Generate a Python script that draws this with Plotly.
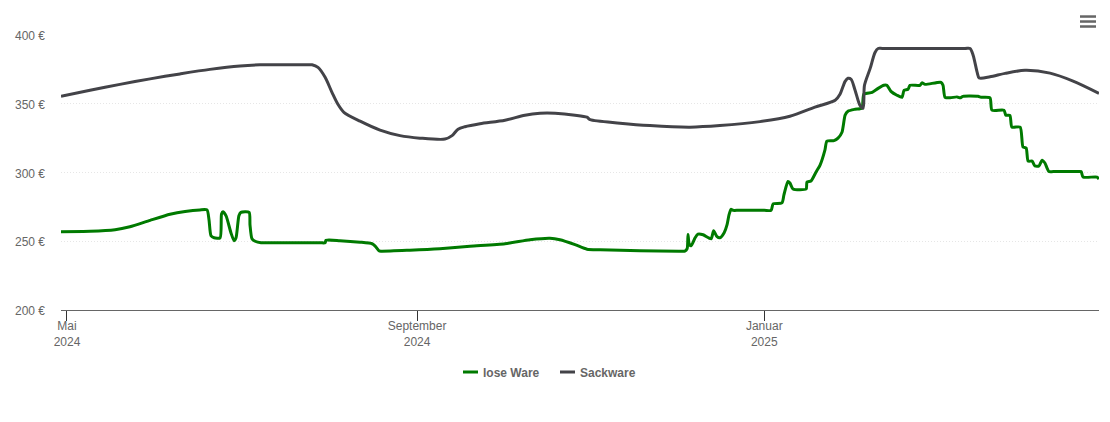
import pandas as pd
import plotly.graph_objects as go

# Days after 1 May 2024, and price in euro
lose_days = [-2.1,8.1,16.9,22.1,29.2,36.2,41.5,46.7,49.2,49.9,50.6,51.7,53.8,54.3,54.8,55.9,57.6,58.7,59.4,60.4,61.1,64,64.3,65,66.1,68.2,70,89,90.7,91,95.9,103,107.2,108.2,109.6,110.3,120.5,131,141.6,153.9,162.7,169.7,173.2,178.5,182.7,187.3,201.3,215,217.1,217.9,218.2,218.6,219.3,220.7,221.7,223.5,226.3,227.2,228.4,229.4,230.9,231.9,232.6,233.3,234,236,245,247.4,248.1,251.2,251.9,253.3,254,255.1,259.7,260,261.4,263.2,264.6,266.3,267,269.5,270.9,272.3,273.4,274.4,276.9,279.3,280,282.9,285,287,288.1,289.5,291.6,293.4,294.1,295.5,296.2,299.7,300.4,301.5,307.1,307.8,308.5,310.3,312.7,313.8,314.8,320.1,321.2,324.3,325,329.2,329.9,331.3,332,334.9,335.9,337,337.7,339.1,340.1,341.5,342.6,343.6,345,346.5,355,356.3,357,361.9,362.6]
lose_ware = [257,257.2,258.3,260.5,265.2,269.6,271.7,272.8,272.8,265.6,254,252.5,252.5,269.9,271.4,268.5,256.2,250.4,252.5,268.5,271,271,262,251.8,250,248.9,248.9,248.9,248.9,250.7,250.4,249.3,248.2,246.7,243.1,242.8,243.5,244.6,246.4,248.2,251.1,252.2,251.1,247.5,244.2,243.8,243.1,242.8,242.8,244.6,255,248.1,246.7,252.5,255.1,254.7,251.8,257.6,253.3,252.5,256.2,261.9,269.2,273.2,272.5,272.5,272.5,272.5,277.2,277.9,283.7,293.5,292.4,288,288,293.1,293.8,300.4,305.4,316.3,322.8,323.2,325,329.3,341.7,344.6,346,346.8,357,358.3,361.2,363.4,363.4,359,356.2,354.7,359.8,360.5,363.4,363.4,365.2,364.1,365.6,363.4,354.7,354.3,355,354.3,355.4,355.4,354.7,354.3,345.3,345.3,341.6,341.6,333,333,318.5,317.8,308.3,308.3,304.7,304.7,309,306.9,300.7,300.7,300.7,300.7,296.7,296.7,295.3]

sack_days = [-2.1,8.1,18.6,29.2,39.7,50.2,60.8,67.8,70,84,86.1,88.2,90.7,93.1,95.2,97.3,103,110,117,124,132.8,135.3,137.4,139.8,145.1,153.9,160.9,166.2,171.5,178.5,182.7,183.8,194.3,204.8,218.9,229.4,243.5,254,262.8,269.9,271.6,273.4,274.4,275.5,276.9,278.6,279.7,280.2,282.2,283.9,285,286.5,315.5,317.3,318.4,319.8,320.5,324.3,329.6,336.6,345.4,353.5,362.6]
sackware = [355.4,359.8,364.1,368.1,371.7,375,377.5,378.3,378.3,378.3,378.3,376.4,369.2,358.3,349.6,343.8,337.3,330.8,326.8,325,324.3,326.8,331.5,333.3,335.5,338,341.7,343.1,343.1,341.7,340.2,338.4,335.9,334.1,333,334.1,337,340.9,347.5,352.5,356.9,366.3,368.5,367.8,359.8,348.9,346.7,363.4,375.7,387.3,390.2,390.2,390.2,390.2,385.1,372.8,368.8,369.6,372.1,374.3,372.3,366.5,357.6]

y_ticks = [200, 250, 300, 350, 400]
y_tick_text = ["200 €", "250 €", "300 €", "350 €", "400 €"]
x_tick_dates = ["2024-05-01", "2024-09-01", "2025-01-01"]
x_tick_text = ["Mai<br>2024", "September<br>2024", "Januar<br>2025"]

base = pd.Timestamp("2024-05-01")
to_dates = lambda days: base + pd.to_timedelta(days, unit="D")
lose_x = to_dates(lose_days)
sack_x = to_dates(sack_days)

fig = go.Figure()
fig.add_trace(go.Scatter(x=lose_x, y=lose_ware, name="lose Ware", mode="lines",
                         line=dict(color="#007a00", width=3, shape="spline", smoothing=0.6)))
fig.add_trace(go.Scatter(x=sack_x, y=sackware, name="Sackware", mode="lines",
                         line=dict(color="#434348", width=3, shape="spline", smoothing=0.8)))

fig.update_layout(
    width=1110, height=422,
    margin=dict(l=61, r=11, t=35, b=111.5, autoexpand=False),
    paper_bgcolor="white", plot_bgcolor="white",
    font=dict(family="Liberation Sans, Arial, sans-serif", size=12, color="#666666"),
    xaxis=dict(type="date", range=[lose_x[0], lose_x[-1]], tickmode="array",
               tickvals=x_tick_dates, ticktext=x_tick_text, ticks="outside", ticklen=10,
               tickcolor="#333333", tickwidth=1, showgrid=False, showline=True,
               linecolor="#666666", linewidth=1, tickangle=0, ticklabelstandoff=-5,
               tickfont=dict(size=12, color="#666666")),
    yaxis=dict(range=[200, 400], tickmode="array", tickvals=y_ticks, ticktext=y_tick_text,
               showgrid=True, gridcolor="#e6e6e6", griddash="1px,2px", gridwidth=1,
               zeroline=False, showline=False, ticks="", ticklabelstandoff=15, ticklabelshift=1,
               tickfont=dict(size=12, color="#666666")),
    showlegend=True,
    legend=dict(orientation="h", xanchor="left", x=(443 - 61) / 1038, yanchor="middle",
                y=-0.2255, font=dict(size=12, color="#666666", weight="bold"),
                itemwidth=30, entrywidth=52, entrywidthmode="pixels", bgcolor="rgba(0,0,0,0)"),
    shapes=[dict(type="line", xref="paper", yref="paper",
                 x0=(1080 - 61) / 1038, x1=(1096 - 61) / 1038,
                 y0=(310.5 - py) / 275.5, y1=(310.5 - py) / 275.5,
                 line=dict(color="#666666", width=2.5)) for py in (16.5, 21.5, 26.5)],
)

fig.write_html("out.html", config={"displayModeBar": False},
               post_script="document.body.style.margin='0';"
                           "document.querySelectorAll('.legendlines path').forEach("
                           "function(p){p.setAttribute('d','M20,0h15');});")
